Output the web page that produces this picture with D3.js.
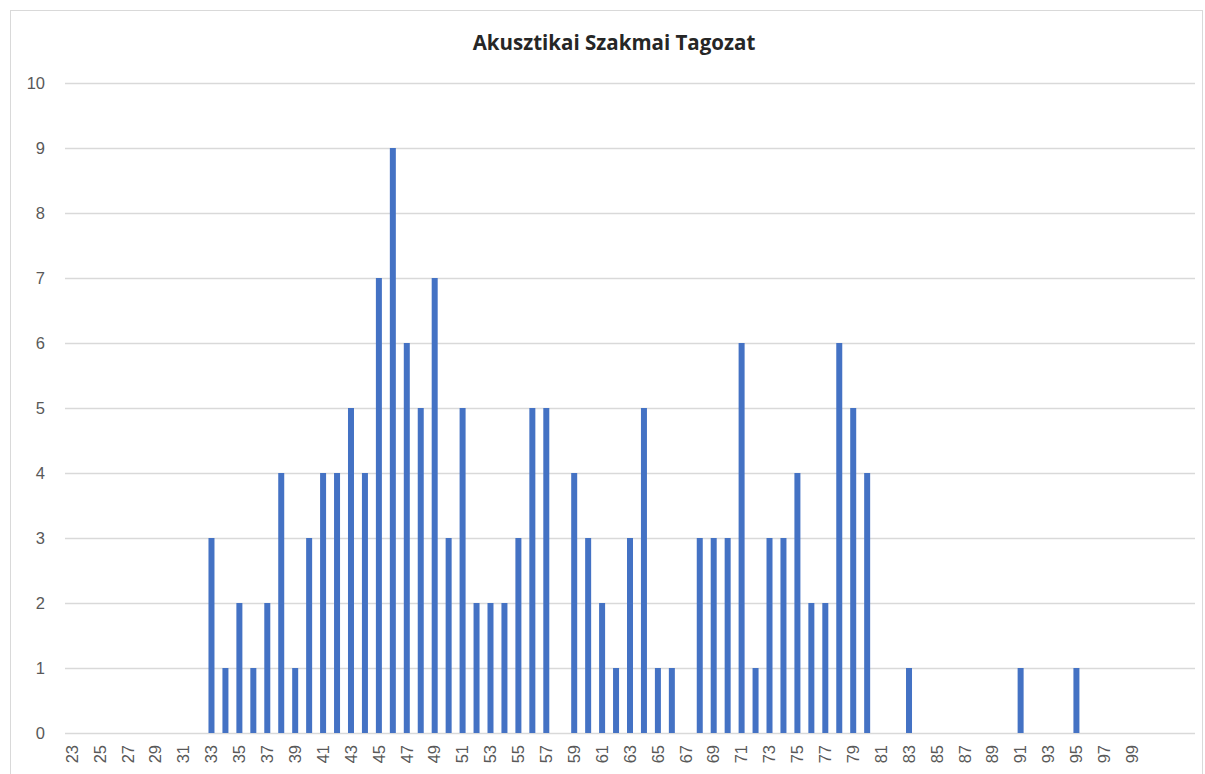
<!DOCTYPE html>
<html><head><meta charset="utf-8">
<script src="https://cdn.jsdelivr.net/npm/d3@7/dist/d3.min.js"></script>
<style>body{margin:0;background:#fff;}svg{display:block;}</style>
</head><body>
<svg id="c" width="1205" height="774"></svg>
<script>
const title = "Akusztikai Szakmai Tagozat";
const categories = d3.range(23, 104); // 23..103
const values = [
  0,0,0,0,0,0,0,0,0,0,          // 23-32
  3,1,2,1,2,4,1,3,4,4,          // 33-42
  5,4,7,9,6,5,7,3,5,2,          // 43-52
  2,2,3,5,5,0,4,3,2,1,          // 53-62
  3,5,1,1,0,3,3,3,6,1,          // 63-72
  3,3,4,2,2,6,5,4,0,0,          // 73-82
  1,0,0,0,0,0,0,0,1,0,          // 83-92
  0,0,1,0,0,0,0,0,0,0,0         // 93-103
];
const tickLabels = d3.range(23, 100, 2).map(String);
const yTicks = [0,1,2,3,4,5,6,7,8,9,10];

const svg = d3.select("#c");
svg.append("rect").attr("x",10.5).attr("y",10.5).attr("width",1192).attr("height",775)
  .attr("fill","#fff").attr("stroke","#d9d9d9");

const m = {l:65, r:1195, t:83, b:733};
const x = d3.scaleBand().domain(categories).range([m.l, m.r]).paddingInner(0.57).paddingOuter(0.285);
const y = d3.scaleLinear().domain([0,10]).range([m.b, m.t]);

svg.append("text").attr("x", 614).attr("y", 50).attr("text-anchor","middle")
  .attr("font-family","'Open Sans', 'Liberation Sans', sans-serif").attr("font-weight","bold")
  .attr("font-size",20.5).attr("fill","#262626").text(title);

const ya = svg.append("g").attr("transform",`translate(${m.l},0)`)
  .call(d3.axisLeft(y).tickValues(yTicks).tickSize(-(m.r-m.l)).tickFormat(d3.format("d")).tickPadding(20));
ya.select(".domain").remove();
ya.selectAll(".tick line").attr("stroke","#d9d9d9").attr("stroke-width",1.3);
ya.selectAll(".tick text").attr("font-family","'Liberation Sans', 'Open Sans', sans-serif")
  .attr("font-size",16.5).attr("fill","#595959");

svg.append("g").selectAll("rect").data(categories.map((c,i)=>({c, v:values[i]})).filter(d=>d.v>0))
  .join("rect")
  .attr("x", d=>x(d.c)).attr("width", x.bandwidth())
  .attr("y", d=>y(d.v)).attr("height", d=>y(0)-y(d.v))
  .attr("fill","#4472c4");

const xa = svg.append("g").attr("transform",`translate(0,${m.b})`)
  .call(d3.axisBottom(x).tickValues(tickLabels.map(Number)).tickSize(0).tickFormat(d=>String(d)));
xa.select(".domain").remove();
xa.selectAll(".tick text")
  .attr("transform","rotate(-90)").attr("text-anchor","end").attr("dx","-12").attr("dy","0.35em").attr("y",0).attr("x",0)
  .attr("font-family","'Liberation Sans', 'Open Sans', sans-serif").attr("font-size",16.5).attr("fill","#595959");
</script>
</body></html>
